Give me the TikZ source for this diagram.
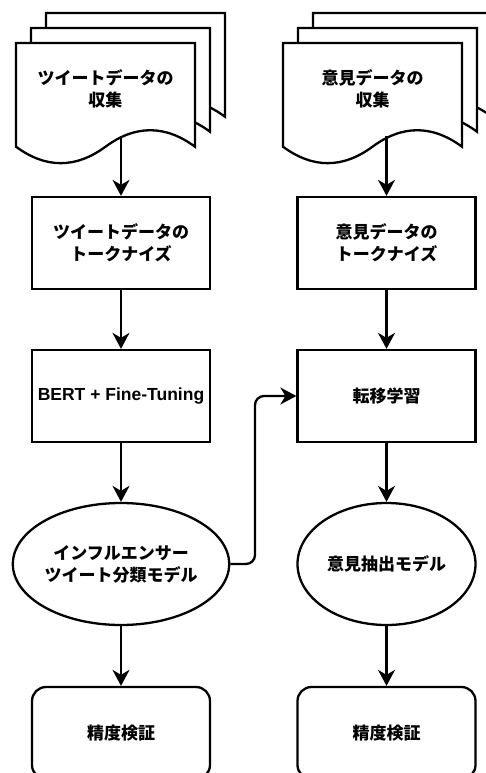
\documentclass[tikz,border=0pt]{standalone}
\usepackage{fontspec}
\setmainfont{Liberation Sans}
\newfontfamily\jpfont{Noto Sans CJK JP}
\usetikzlibrary{arrows.meta,shapes.geometric}
\newcommand\docsheet[2]{%
  \begin{scope}[shift={(#1,#2)}]
    \draw[fill=white] (0,0) -- (179,0) -- (179,103.7)
      .. controls (149.17,81.74) and (119.33,81.74) .. (89.5,103.7)
      .. controls (59.67,125.66) and (29.83,125.66) .. (0,103.7) -- cycle;
  \end{scope}}
\begin{document}
\begin{tikzpicture}[x=1pt,y=-1pt,line width=2.3pt,
  jptext/.style={font=\jpfont\bfseries\fontsize{17}{22}\selectfont, align=center},
  box/.style={jptext, draw, fill=white, minimum width=178pt, minimum height=92pt, inner sep=0pt},
  rbox/.style={box, rounded corners=14pt},
  oval/.style={jptext, draw, fill=white, ellipse, minimum width=178pt, minimum height=122pt, inner sep=0pt},
  arr/.style={-{Stealth[length=16pt,width=17pt,inset=5pt]}}]
\useasboundingbox (0,0) rectangle (485,773);
% documents (left)
\docsheet{46}{13}
\docsheet{31}{28}
\docsheet{16}{43}
% documents (right)
\docsheet{313}{13}
\docsheet{298}{28}
\docsheet{283}{43}
\node[jptext] (doc1) at (105.5,89) {ツイートデータの\\収集};
\node[jptext] (doc2) at (372.5,89) {意見データの\\収集};
\coordinate (d1) at (121,136);
\coordinate (d2) at (386.5,136);
% left column
\node[box] (l1) at (121,243) {ツイートデータの\\トークナイズ};
\node[box, font=\bfseries\fontsize{17.5}{22}\selectfont] (l2) at (121,396) {BERT + Fine-Tuning};
\node[oval] (l3) at (121,564) {インフルエンサー\\ツイート分類モデル};
\node[rbox] (l4) at (121,733) {精度検証};
% right column
\node[box] (r1) at (386.5,243) {意見データの\\トークナイズ};
\node[box] (r2) at (386.5,396) {転移学習};
\node[oval] (r3) at (386.5,564) {意見抽出モデル};
\node[rbox] (r4) at (386.5,733) {精度検証};
% connectors
\draw[arr] (d1) -- (l1);
\draw[arr] (l1) -- (l2);
\draw[arr] (l2) -- (l3);
\draw[arr] (l3) -- (l4);
\draw[arr] (d2) -- (r1);
\draw[arr] (r1) -- (r2);
\draw[arr] (r2) -- (r3);
\draw[arr] (r3) -- (r4);
\coordinate (k1) at (255,564);
\coordinate (k2) at (255,396);
\draw[arr, rounded corners=9pt] (l3.east) -- (k1) -- (k2) -- (r2.west);
\end{tikzpicture}
\end{document}
